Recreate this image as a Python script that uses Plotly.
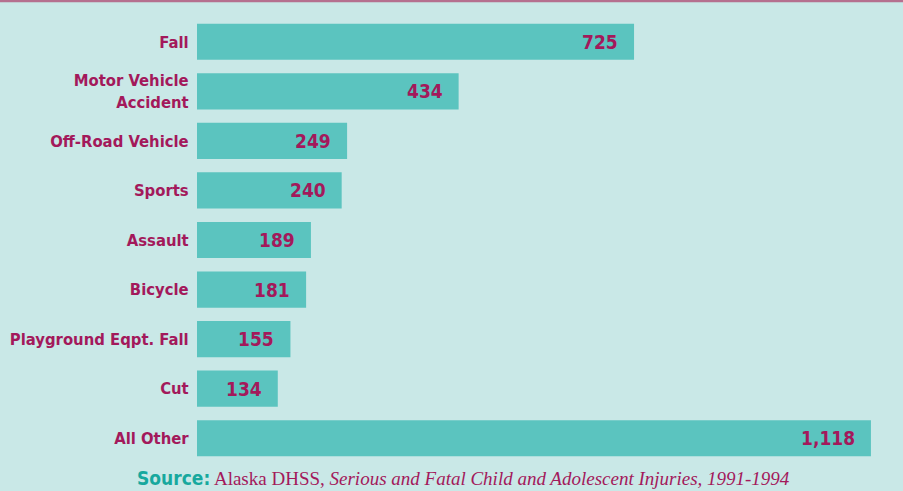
import plotly.graph_objects as go

categories = ["Fall", "Motor Vehicle<br>Accident", "Off-Road Vehicle", "Sports", "Assault",
              "Bicycle", "Playground Eqpt. Fall", "Cut", "All Other"]
values = [725, 434, 249, 240, 189, 181, 155, 134, 1118]
value_labels = ["725", "434", "249", "240", "189", "181", "155", "134", "1,118"]

BG = "#c9e8e7"
BAR = "#5bc4bf"
RED = "#a3195b"
TEAL_TXT = "#17a89e"
SANS = "DejaVu Sans Condensed, Liberation Sans Narrow, sans-serif"
SERIF = "Liberation Serif, DejaVu Serif, serif"

W, H = 903, 491
ML, MR, MT, MB = 197, 20, 17, 28
PW, PH = W - ML - MR, H - MT - MB

fig = go.Figure()
fig.add_trace(go.Bar(
    x=values, y=categories, orientation="h",
    marker=dict(color=BAR, line=dict(width=0)),
    hoverinfo="skip",
))

for v, c, t in zip(values, categories, value_labels):
    fig.add_annotation(x=v, y=c, xref="x", yref="y", text=f"<b>{t}</b>",
                       showarrow=False, xanchor="right", xshift=-14,
                       font=dict(family=SANS, size=19, color=RED))

fig.add_annotation(
    x=(463 - ML) / PW, y=(H - MB - 478) / PH, xref="paper", yref="paper",
    yanchor="middle", xanchor="center",
    text=(f"<span style='font-family:{SANS};color:{TEAL_TXT};font-weight:bold'>Source:</span> "
          "Alaska DHSS, <i>Serious and Fatal Child and Adolescent Injuries, 1991-1994</i>"),
    showarrow=False, font=dict(family=SERIF, size=19, color=RED),
)

fig.add_shape(type="line", xref="paper", yref="paper",
              x0=-ML / PW, x1=1 + MR / PW, y0=1 + (MT - 1) / PH, y1=1 + (MT - 1) / PH,
              line=dict(color="#b5708f", width=2.5))

fig.update_layout(
    width=W, height=H,
    paper_bgcolor=BG, plot_bgcolor=BG,
    margin=dict(l=ML, r=MR, t=MT, b=MB, autoexpand=False),
    bargap=0.27,
    showlegend=False,
    xaxis=dict(range=[0, 1138], visible=False, fixedrange=True),
    yaxis=dict(autorange="reversed", showgrid=False, zeroline=False, showline=False,
               automargin=False, fixedrange=True,
               ticks="outside", ticklen=4, tickcolor="rgba(0,0,0,0)",
               tickfont=dict(family=SANS, size=16.5, color=RED),
               tickprefix="<b>", ticksuffix="</b>"),
)

fig.write_html("out.html", config={"displayModeBar": False},
               post_script="document.body.style.margin='0';")
